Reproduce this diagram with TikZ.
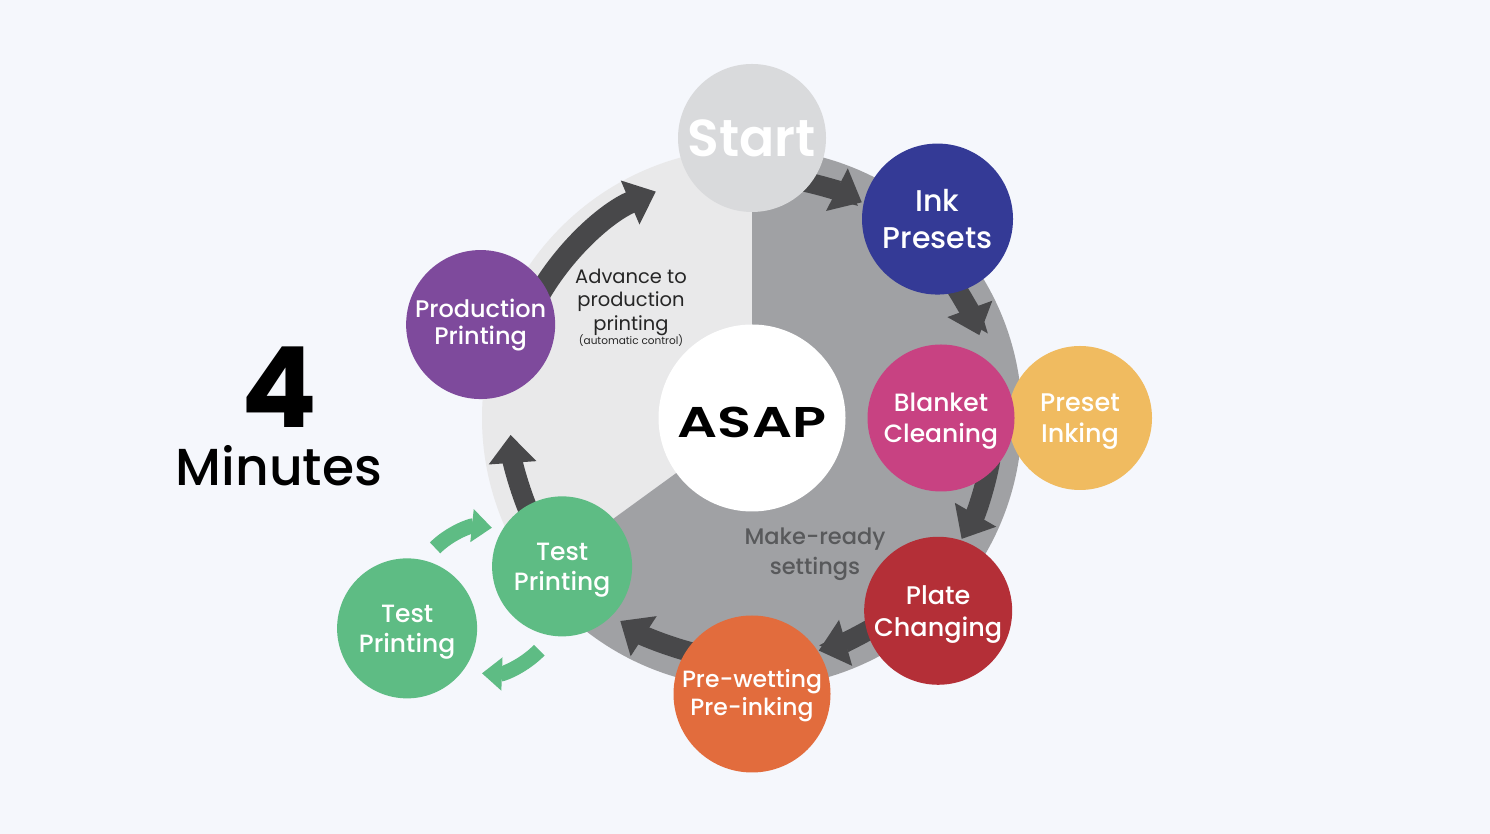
\documentclass[tikz,border=0pt]{standalone}
\usepackage{fontspec}
\setmainfont{Poppins}
\newfontfamily\popsemi{Poppins SemiBold}
\newfontfamily\popmed{Poppins Medium}
\usetikzlibrary{calc,arrows.meta}

\definecolor{bgcol}{HTML}{F5F7FC}
\definecolor{ringlight}{HTML}{E9E9EA}
\definecolor{ringdark}{HTML}{A0A1A4}
\definecolor{startgray}{HTML}{D9DADC}
\definecolor{inkblue}{HTML}{343A96}
\definecolor{blanketpink}{HTML}{C84282}
\definecolor{presetyellow}{HTML}{F0BB60}
\definecolor{platered}{HTML}{B42F37}
\definecolor{prewetorange}{HTML}{E26C3D}
\definecolor{testgreen}{HTML}{5EBC84}
\definecolor{prodpurple}{HTML}{7E4A9C}
\definecolor{arrowgray}{HTML}{48484A}
\definecolor{labelgray}{HTML}{58595B}

\begin{document}
\begin{tikzpicture}[x=1pt, y=1pt,
        stage/.style={circle, minimum size=#1, inner sep=0pt, text=white, align=center, text depth=0pt},
        flow/.style={line width=20pt, draw=arrowgray, -{Triangle[width=46pt, length=28pt]}},
        testflow/.style={line width=15pt, draw=testgreen, -{Triangle[width=32pt, length=20pt]}}]

        % Background and page size
        \fill[bgcol] (0,0) rectangle (1490,834);
        \useasboundingbox (0,0) rectangle (1490,834);

        % Centre of the cycle
        \coordinate (C) at (752,416);
        \def\ring{270}
        \def\arrowr{242}

        % Disc in two sectors
        \fill[ringlight] (C) -- ++(90:\ring) arc[start angle=90, end angle=216, radius=\ring] -- cycle;
        \fill[ringdark] (C) -- ++(216:\ring) arc[start angle=216, end angle=450, radius=\ring] -- cycle;

        % Flow arrows round the ring
        \draw[flow] ($(C)+(79:\arrowr)$) arc[start angle=79, end angle=63, radius=\arrowr];
        \draw[flow] ($(C)+(33:\arrowr)$) arc[start angle=33, end angle=20, radius=\arrowr];
        \draw[flow] ($(C)+(-10:\arrowr)$) arc[start angle=-10, end angle=-30, radius=\arrowr];
        \draw[flow] ($(C)+(-58:\arrowr)$) arc[start angle=-58, end angle=-74, radius=\arrowr];
        \draw[flow] ($(C)+(-104:\arrowr)$) arc[start angle=-104, end angle=-123, radius=\arrowr];
        \draw[flow] ($(C)+(203:\arrowr)$) arc[start angle=203, end angle=184, radius=\arrowr];
        \draw[flow, line width=22pt] ($(C)+(150:246)$) arc[start angle=150, end angle=113, radius=246];

        % Stages
        \node[stage=187, fill=white, text=black] (asap) at (C)
            {\raisebox{-8pt}{\scalebox{1.3}[1]{\popsemi\fontsize{43}{43}\selectfont ASAP}}};
        \node[stage=148, fill=startgray, font=\popsemi\fontsize{52}{52}\selectfont] (start) at ($(C)+(90:280)$) {Start};
        \node[stage=151, fill=inkblue, font=\popmed\fontsize{30}{37}\selectfont] (ink) at ($(C)+(47:272)$) {Ink\\Presets};
        \node[stage=144, fill=presetyellow, font=\popmed\fontsize{25.5}{31}\selectfont] (preset) at ($(C)+(0:328)$) {Preset\\Inking};
        \node[stage=147, fill=blanketpink, font=\popmed\fontsize{25}{31}\selectfont] (blanket) at ($(C)+(0:189)$) {Blanket\\Cleaning};
        \node[stage=148, fill=platered, font=\popmed\fontsize{25.5}{32}\selectfont] (plate) at ($(C)+(-46:268)$) {Plate\\Changing};
        \node[stage=157, fill=prewetorange, font=\popmed\fontsize{23.5}{28}\selectfont, text depth=4pt] (prewet) at ($(C)+(-90:276)$) {Pre-wetting\\Pre-inking};
        \node[stage=140, fill=testgreen, font=\popmed\fontsize{25}{30}\selectfont] (test) at ($(C)+(218:241)$) {Test\\Printing};
        \node[stage=140, fill=testgreen, font=\popmed\fontsize{25}{30}\selectfont] (testb) at ($(test)+(-155,-62)$) {Test\\Printing};
        \node[stage=149, fill=prodpurple, font=\popmed\fontsize{24}{27}\selectfont, text depth=6pt] (prod) at ($(C)+(161:287)$) {Production\\Printing};

        % Test loop
        \coordinate (M) at ($(test)!0.5!(testb)$);
        \draw[testflow] ($(M)+(135:70)$) arc[start angle=135, end angle=84, radius=70];
        \draw[testflow] ($(M)+(-44:76)$) arc[start angle=-44, end angle=-92, radius=76];

        % Labels
        \node[align=center, text=black!85, font=\fontsize{19.5}{23.5}\selectfont] (advance) at (631,532)
            {Advance to\\production\\printing};
        \node[text=black!85, font=\fontsize{10.5}{10.5}\selectfont, inner sep=0pt] (auto) at (631,493) {(automatic control)};
        \node[align=center, text=labelgray, font=\popmed\fontsize{22.5}{30}\selectfont] (makeready) at (815,280)
            {Make-ready\\settings};
        \node[font=\bfseries\fontsize{112}{112}\selectfont, inner sep=0pt, text height=78pt, text depth=0pt] (four) at (279,445) {4};
        \node[font=\popmed\fontsize{52}{52}\selectfont, inner sep=0pt, text height=37pt, text depth=0pt] (minutes) at (279,367) {Minutes};
\end{tikzpicture}
\end{document}
